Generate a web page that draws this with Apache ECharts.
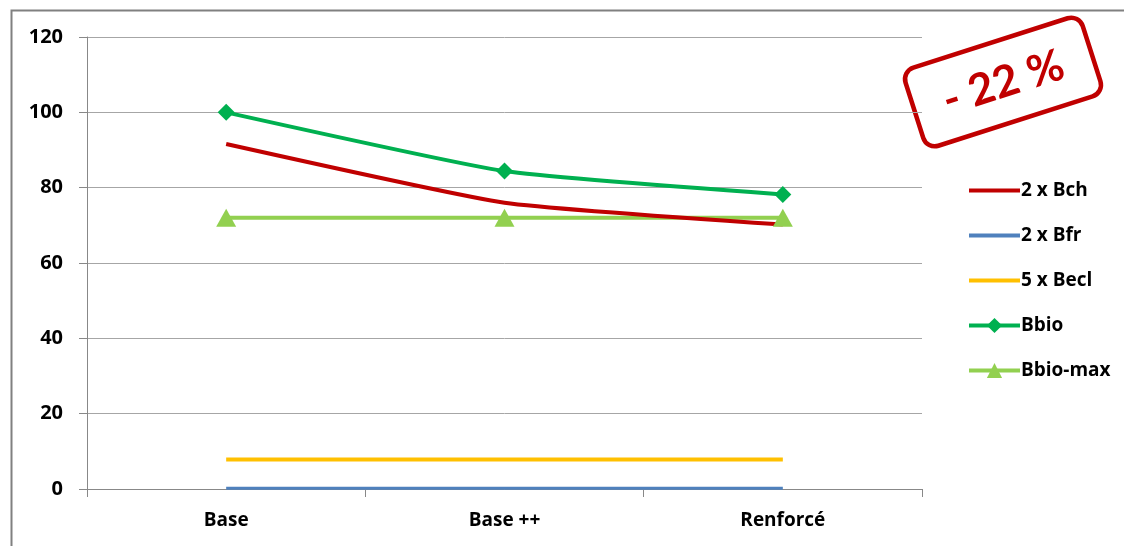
<!DOCTYPE html>
<html><head><meta charset="utf-8">
<script src="https://cdn.jsdelivr.net/npm/echarts@6/dist/echarts.min.js"></script>
<style>html,body{margin:0;padding:0;background:#fff}#c{width:1124px;height:546px}</style>
</head><body><div id="c"></div>
<script>
const categories = ['Base', 'Base ++', 'Renforcé'];
const bch = [91.6, 76, 70.2];
const bfr = [0.2, 0.2, 0.2];
const becl = [7.8, 7.8, 7.8];
const bbio = [100, 84.4, 78.2];
const bbioMax = [72, 72, 72];
const yTicks = [0, 20, 40, 60, 80, 100, 120];

const FONT = 'Open Sans';
const chart = echarts.init(document.getElementById('c'));
function line(name, data, color, extra) {
  return Object.assign({
    name, type: 'line', data, smooth: 0.15,
    symbol: 'none',
    lineStyle: { color, width: 4 },
    itemStyle: { color },
    animation: false
  }, extra || {});
}
const hideSym = { opacity: 0 };
chart.setOption({
  animation: false,
  grid: { left: 87, right: 202, top: 37, bottom: 57, containLabel: false },
  xAxis: {
    type: 'category', data: categories, boundaryGap: true,
    axisLine: { lineStyle: { color: '#888', width: 1 } },
    axisTick: { show: true, length: 8, lineStyle: { color: '#888' } },
    axisLabel: { color: '#000', fontFamily: FONT, fontWeight: 'bold', fontSize: 19, margin: 22 }
  },
  yAxis: {
    type: 'value', min: 0, max: 120, interval: 20,
    axisLine: { show: true, lineStyle: { color: '#888', width: 1 } },
    axisTick: { show: true, length: 8, lineStyle: { color: '#888' } },
    splitLine: { lineStyle: { color: '#a6a6a6', width: 1 } },
    axisLabel: { color: '#000', fontFamily: FONT, fontWeight: 'bold', fontSize: 20, margin: 24,
      formatter: v => yTicks.includes(v) ? String(v) : '' }
  },
  legend: {
    orient: 'vertical', left: 962, top: 176, itemWidth: 51, itemHeight: 19, itemGap: 26,
    lineStyle: { width: 4 },
    textStyle: { color: '#000', fontFamily: FONT, fontWeight: 'bold', fontSize: 19, padding: [0,0,0,-4] },
    data: [
      { name: '2 x Bch', itemStyle: hideSym },
      { name: '2 x Bfr', itemStyle: hideSym },
      { name: '5 x Becl', itemStyle: hideSym },
      'Bbio', 'Bbio-max'
    ]
  },
  series: [
    line('2 x Bfr', bfr, '#4F81BD', { lineStyle: { color: '#4F81BD', width: 3 } }),
    line('5 x Becl', becl, '#FFC000'),
    line('Bbio-max', bbioMax, '#92D050', { symbol: 'triangle', symbolSize: [20, 18], showSymbol: true }),
    line('2 x Bch', bch, '#C00000'),
    line('Bbio', bbio, '#00B050', { symbol: 'diamond', symbolSize: 17, showSymbol: true })
  ],
  graphic: [
    { type: 'rect', left: 9, top: 8, shape: { width: 1130, height: 560 }, style: { fill: 'none', stroke: '#808080', lineWidth: 2 }, silent: true },
    { type: 'group', x: 1003, y: 82, rotation: 0.31, children: [
      { type: 'rect', shape: { x: -93, y: -41, width: 186, height: 82, r: 12 }, style: { fill: '#fff', stroke: '#C00000', lineWidth: 4.5 } },
      { type: 'text', x: 0, y: 1, style: { text: '- 22 %', fill: '#C00000', font: 'bold 44px Lato', align: 'center', verticalAlign: 'middle' } }
    ]}
  ]
});
</script></body></html>
